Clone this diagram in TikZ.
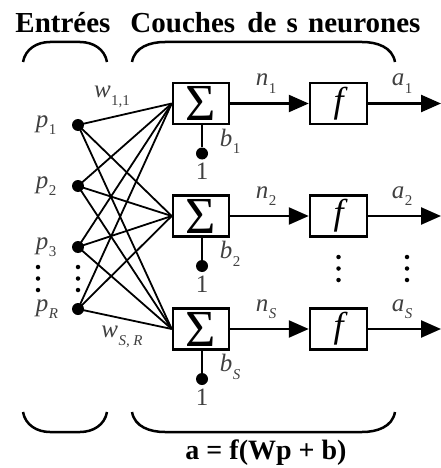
\documentclass[tikz,border=0pt]{standalone}
\usepackage{fontspec}
\setmainfont{Liberation Serif}[ItalicFont=Liberation Serif Italic,BoldFont=Liberation Serif Bold]
\newfontfamily\itf{Liberation Serif Italic}
\usetikzlibrary{arrows.meta}
\definecolor{labc}{HTML}{404040}
\newcommand\lsub[2]{{#1}\kern0.5pt\raisebox{-0.3em}{\fontsize{15}{15}\selectfont #2}}
\begin{document}
\begin{tikzpicture}[x=1pt,y=-1pt,
  boxn/.style={draw,line width=2.5pt,minimum width=56pt,minimum height=41pt,inner sep=0pt},
  dotn/.style={circle,fill,inner sep=0pt,minimum size=12pt},
  lab/.style={text=labc,font=\fontsize{25}{25}\selectfont,inner sep=0pt},
  wire/.style={line width=1.8pt},
  arr/.style={line width=2.5pt,-{Triangle[length=20pt,width=17pt]}},
  brace/.style={line width=2.5pt},
  edot/.style={circle,fill,inner sep=0pt,minimum size=4.5pt},
  title/.style={font=\bfseries\fontsize{29}{29}\selectfont,inner sep=0pt}]
\useasboundingbox (0,0) rectangle (441,468);
% titles
\node[title] (t1) at (63,23) {Entrées};
\node[title] (t2) at (275.5,23) {Couches\hspace{5pt} de\hspace{3pt} s\hspace{3pt} neurones};
% braces top
\draw[brace] (23,62) to[out=80,in=180] (50,42) -- (80,42) to[out=0,in=100] (107,62);
\draw[brace] (132,62) to[out=80,in=180] (165,42) -- (362,42) to[out=0,in=100] (395,62);
% braces bottom
\draw[brace] (23,412) to[out=-80,in=180] (50,432) -- (80,432) to[out=0,in=-100] (107,412);
\draw[brace] (132,412) to[out=-80,in=180] (165,432) -- (362,432) to[out=0,in=-100] (395,412);
% inputs
\node[dotn] (p1) at (78,125) {};
\node[dotn] (p2) at (78,186) {};
\node[dotn] (p3) at (78,247) {};
\node[dotn] (pR) at (78,309) {};
\node[lab] (lp1) at (46,125) {\lsub{\itf p}{1}};
\node[lab] (lp2) at (46,186) {\lsub{\itf p}{2}};
\node[lab] (lp3) at (46,247) {\lsub{\itf p}{3}};
\node[lab] (lpR) at (47,309) {\lsub{\itf p}{\itf R}};
\foreach \yy [count=\i] in {267,278.5,290}{
  \node[edot] (el\i) at (38,\yy) {};
  \node[edot] (er\i) at (78,\yy) {};
}
% neurons
\foreach \r/\yy/\nn/\bb in {1/103.5/1/1,2/216/2/2,3/329/\itf S/\itf S}{
  \node[boxn] (s\r) at (201,\yy) {\fontsize{52}{52}\selectfont Σ};
  \node[boxn,minimum width=57pt] (f\r) at (338.5,\yy) {\fontsize{36}{36}\selectfont\itf f};
  \coordinate (o\r) at (441,\yy);
  \draw[arr] (s\r.east) -- (f\r.west);
  \draw[arr] (f\r.east) -- (o\r);
  \node[lab] (n\r) at (266,\yy-20) {\lsub{\itf n}{\nn}};
  \node[lab] (a\r) at (402,\yy-20) {\lsub{\itf a}{\nn}};
  \node[dotn] (bd\r) at (202,\yy+50) {};
  \draw[line width=2.5pt] (s\r.south -| bd\r) -- (bd\r);
  \node[lab] (b\r) at (230,\yy+38) {\lsub{\itf b}{\bb}};
  \node[lab] (one\r) at (202,\yy+68) {1};
  \foreach \p in {p1,p2,p3,pR}{
    \draw[wire] (\p.center) -- (s\r.west);
  }
}
\foreach \yy [count=\i] in {257,268.5,280}{
  \node[edot] (ef\i) at (338.5,\yy) {};
  \node[edot] (ea\i) at (407,\yy) {};
}
\node[lab] (w11) at (112,97) {\lsub{\itf w}{1,1}};
\node[lab] (wSR) at (122,337) {\lsub{\itf w}{\itf S, R}};
% formula
\node[font=\bfseries\fontsize{28}{28}\selectfont,inner sep=0pt] (form) at (266,453) {a = f(Wp + b)};
\end{tikzpicture}
\end{document}
